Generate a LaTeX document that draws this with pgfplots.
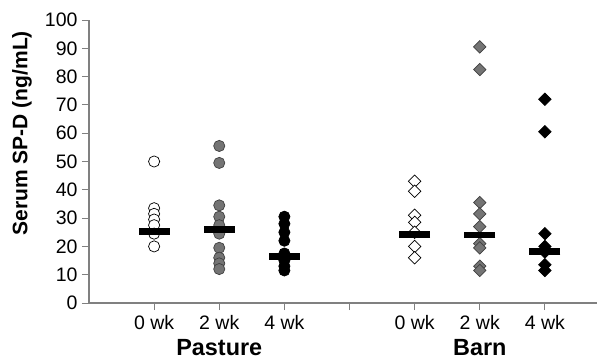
\documentclass[border=0pt]{standalone}
\usepackage{pgfplots}
\pgfplotsset{compat=1.18}
\usepackage{fontspec}
\setmainfont{Liberation Sans}
\definecolor{midgray}{HTML}{747474}
\definecolor{axgray}{HTML}{808080}
\begin{document}
\begin{tikzpicture}
\begin{axis}[
  at={(0,0)}, anchor=south west,
  scale only axis, width=508pt, height=283pt,
  xmin=0, xmax=7.8, ymin=0, ymax=100,
  axis x line*=bottom, axis y line*=left,
  axis line style={axgray, line width=1.1pt, -},
  xtick={1,2,3,4,5,6,7},
  xticklabels={0 wk,2 wk,4 wk,,0 wk,2 wk,4 wk},
  ytick={0,10,...,100},
  tick align=outside, major tick length=7pt,
  tick style={axgray, line width=1pt},
  /pgf/number format/assume math mode=true,
  xticklabel style={font=\fontsize{19.5}{20}\selectfont, yshift=-2pt},
  yticklabel style={font=\fontsize{19.5}{20}\selectfont, xshift=-1pt},
  ylabel={\bfseries Serum SP-D (ng/mL)},
  ylabel style={font=\fontsize{21}{22}\selectfont, at={(axis description cs:-0.132,0.6)}, anchor=center, rotate=0},
  clip=false,
]
% Pasture 0 wk
\addplot[only marks, mark=*, mark size=5.6pt, mark options={fill=white, draw=black, line width=0.7pt}]
  coordinates {(1,50) (1,33.5) (1,31.5) (1,29.5) (1,27.5) (1,24.5) (1,20)};
% Pasture 2 wk
\addplot[only marks, mark=*, mark size=5.6pt, mark options={fill=midgray, draw=black!75, line width=0.7pt}]
  coordinates {(2,55.5) (2,49.5) (2,34.5) (2,30.5) (2,27.5) (2,24.5) (2,19.5) (2,16) (2,14) (2,12)};
% Pasture 4 wk
\addplot[only marks, mark=*, mark size=5.6pt, mark options={fill=black, draw=black, line width=0.7pt}]
  coordinates {(3,30.5) (3,28) (3,25) (3,22) (3,17.5) (3,15) (3,13) (3,11.5)};
% Barn 0 wk
\addplot[only marks, mark=square*, mark size=4.4pt, mark options={rotate=45, fill=white, draw=black, line width=0.7pt}]
  coordinates {(5,43) (5,39.5) (5,31) (5,28.5) (5,25) (5,20) (5,16)};
% Barn 2 wk
\addplot[only marks, mark=square*, mark size=4.4pt, mark options={rotate=45, fill=midgray, draw=black!75, line width=0.7pt}]
  coordinates {(6,90.5) (6,82.5) (6,35.5) (6,31.5) (6,27) (6,21) (6,19.5) (6,13) (6,11.5)};
% Barn 4 wk
\addplot[only marks, mark=square*, mark size=4.4pt, mark options={rotate=45, fill=black, draw=black, line width=0.7pt}]
  coordinates {(7,72) (7,60.5) (7,24.5) (7,20) (7,18) (7,13.5) (7,11.5)};
% medians
\addplot[only marks, mark=-, mark size=15.5pt, mark options={line width=6.8pt, draw=black}]
  coordinates {(1,25.4) (2,26) (3,16.5) (5,24.1) (6,24) (7,18.3)};
\node[font=\fontsize{23.4}{24}\bfseries\selectfont, anchor=base] at ([yshift=-52pt]axis cs:2,0) {Pasture};
\node[font=\fontsize{23.4}{24}\bfseries\selectfont, anchor=base] at ([yshift=-52pt]axis cs:6,0) {Barn};
\end{axis}
\pgfresetboundingbox
\useasboundingbox (-89pt,-57pt) rectangle (508pt,303pt);
\end{tikzpicture}
\end{document}
